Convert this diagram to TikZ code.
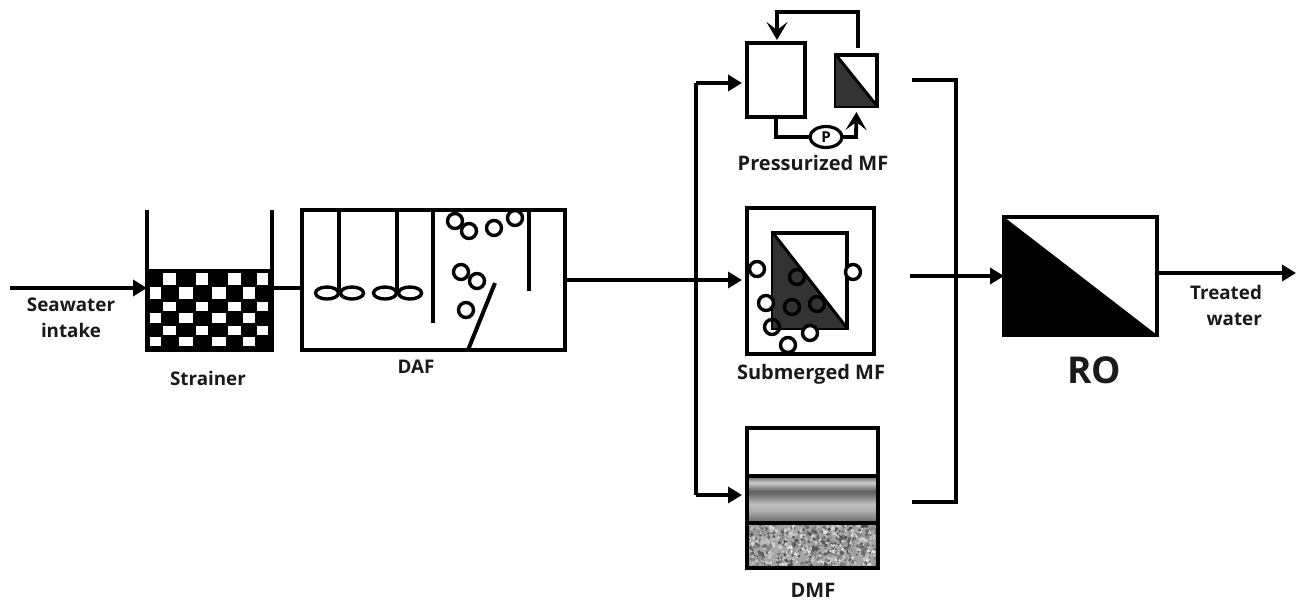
\documentclass[tikz,border=0pt]{standalone}
\usepackage{fontspec}
\setmainfont{Open Sans}
\usetikzlibrary{arrows.meta,shapes.geometric}
\definecolor{ink}{HTML}{1A1A1A}
\definecolor{darkfill}{HTML}{333333}
\pgfdeclareverticalshading{mediaband}{100bp}{%
 color(0bp)=(black!55); color(25bp)=(black!60); color(29bp)=(black!52);
 color(38bp)=(black!32); color(45bp)=(black!25); color(56bp)=(black!58);
 color(59bp)=(black!62); color(68bp)=(black!20); color(72bp)=(black!45);
 color(75bp)=(black!65); color(100bp)=(black!65)}
\tikzset{
 boxline/.style={draw=black,line width=2.2pt,fill=white,inner sep=0pt,outer sep=0pt},
 flow/.style={draw=black,line width=2pt},
 arrowflow/.style={flow,-{Triangle[length=7pt,width=8pt]},shorten >=2.5pt},
 barbflow/.style={draw=black,line width=1.9pt,-{Stealth[length=9pt,width=10.5pt,inset=4pt]}},
 bubble/.style={draw=black,line width=1.7pt},
 caption/.style={font=\bfseries\fontsize{9.4}{13}\selectfont,text=ink,align=center,inner sep=0pt},
 bigcaption/.style={caption,font=\bfseries\fontsize{10}{13}\selectfont},
}
\begin{document}
\begin{tikzpicture}[x=0.5pt,y=-0.5pt]
\useasboundingbox (0,0) rectangle (1300,602);
\fill[white] (0,0) rectangle (1300,602);

% Named free ends and junctions
\coordinate (intake) at (10,288);
\coordinate (wallL) at (147,210);
\coordinate (wallR) at (272,210);
\coordinate (trunkTop) at (696,83);
\coordinate (trunkMid) at (696,281);
\coordinate (trunkBot) at (696,495);
\coordinate (pfOut) at (912,80);
\coordinate (smOut) at (910,276);
\coordinate (dmOut) at (912,502);
\coordinate (busTop) at (956,80);
\coordinate (busBot) at (956,502);
\coordinate (product) at (1296,273);
\coordinate (recycleA) at (858,12);
\coordinate (recycleB) at (777,12);
\coordinate (pumpIn) at (776,137);
\coordinate (pumpOut) at (856,137);

% Strainer
\node[draw=black,line width=2pt,fill=black,inner sep=0pt,outer sep=0pt,minimum width=62.5pt,minimum height=39.5pt] (strainer) at (209.5,310.5) {};
\foreach \ya/\yb in {273.3/285,301.7/310.7,325.7/335}
  \foreach \xa/\xb in {163.3/176,196/208.3,228.3/240.7,257.3/268.3}
    \fill[white] (\xa,\ya) rectangle (\xb,\yb);
\foreach \ya/\yb in {287.3/299.3,313.3/323.3,337.3/346}
  \foreach \xa/\xb in {150/160.7,179.3/193.3,211.7/226,243.3/255}
    \fill[white] (\xa,\ya) rectangle (\xb,\yb);
\draw[flow] (strainer.north west) -- (wallL);
\draw[flow] (strainer.north east) -- (wallR);
\node[caption] (strainerlabel) at (208,378) {Strainer};

% DAF
\node[boxline,minimum width=131.5pt,minimum height=70pt] (daf) at (433.5,280) {};
\foreach \x in {339,397} \draw[flow] (\x,210) -- (\x,293);
\foreach \x in {327,352,385,410} \draw[bubble] (\x,293) ellipse (11.5 and 6);
\draw[flow] (433,210) -- (433,323);
\draw[flow] (529,210) -- (529,291);
\draw[flow] (468,350) -- (495,283);
\foreach \x/\y in {455/221,469/231,494/228,515/218,461/272,477/281,466/310}
  \draw[bubble] (\x,\y) circle (7.5);
\node[caption] (daflabel) at (416,367) {DAF};

% Pressurized MF
\node[boxline,minimum width=29pt,minimum height=37pt] (tank) at (776,80) {};
\node[boxline,minimum width=20.5pt,minimum height=25.5pt] (pmem) at (856.5,80.5) {};
\fill[darkfill] (pmem.north west) -- (pmem.south east) -- (pmem.south west) -- cycle;
\draw[line width=1.5pt] (pmem.north west) -- (pmem.south east);
\node[boxline,ellipse,minimum width=16pt,minimum height=10.5pt,line width=1.6pt,font=\bfseries\fontsize{7.5}{8}\selectfont] (pump) at (826,137) {P};
\draw[flow,line width=1.7pt] (tank.south) -- (pumpIn) -- (pump.west);
\draw[barbflow,shorten >=3pt] (pump.east) -- (pumpOut) -- (pmem.south);
\draw[barbflow,shorten >=1.5pt] (recycleA |- pmem.north) ++(0,-7) -- (recycleA) -- (recycleB) -- (tank.north -| recycleB);
\node[bigcaption] (pflabel) at (813,163) {Pressurized MF};

% Submerged MF
\node[boxline,minimum width=63.5pt,minimum height=73pt] (smtank) at (810.5,281) {};
\node[boxline,minimum width=37pt,minimum height=47.5pt] (smmem) at (810,280.5) {};
\fill[darkfill] (smmem.north west) -- (smmem.south east) -- (smmem.south west) -- cycle;
\draw[line width=1.5pt] (smmem.north west) -- (smmem.south east);
\foreach \x/\y in {757/269,853/272,766/303,788/345,810/333}
  \draw[bubble,fill=white] (\x,\y) circle (7.5);
\foreach \x/\y in {797/277,792/307,817/304,772/327}
  \draw[bubble] (\x,\y) circle (7.5);
\node[bigcaption] (smlabel) at (811,374) {Submerged MF};

% DMF
\begin{scope}
\clip (747,523) rectangle (878,568);
\fill[black!35] (747,523) rectangle (878,568);
\pgfmathsetseed{4217}
\foreach \i in {1,...,1100}{
  \pgfmathsetmacro{\px}{747+131*rnd}
  \pgfmathsetmacro{\py}{523+45*rnd}
  \pgfmathsetmacro{\sh}{int(10+62*rnd)}
  \pgfmathsetmacro{\rr}{0.9+1.3*rnd}
  \fill[black!\sh] (\px,\py) circle (\rr);
}
\end{scope}
\shade[shading=mediaband] (747,476) rectangle (878,523);
\node[draw=black,line width=2.2pt,inner sep=0pt,outer sep=0pt,minimum width=65.5pt,minimum height=70pt] (dmf) at (812.5,498) {};
\draw[flow] (747,476) -- (878,476);
\draw[flow] (747,523) -- (878,523);
\node[caption,font=\bfseries\fontsize{10}{13}\selectfont] (dmflabel) at (813,590) {DMF};

% RO
\node[boxline,minimum width=76.5pt,minimum height=59pt] (ro) at (1080.5,276) {};
\fill[black] (ro.north west) -- (ro.south east) -- (ro.south west) -- cycle;
\node[caption,font=\bfseries\fontsize{18.5}{22}\selectfont] (rolabel) at (1094,370) {RO};

% Connectors
\draw[arrowflow,shorten >=0pt] (intake) -- (intake -| strainer.west);
\draw[flow] (strainer.east |- intake) -- (daf.west |- intake);
\draw[arrowflow] (daf.east) -- (smtank.west |- daf.east);
\draw[flow] (trunkBot) -- (trunkTop);
\draw[arrowflow] (trunkTop) -- (trunkTop -| tank.west);
\draw[arrowflow] (trunkBot) -- (trunkBot -| dmf.west);
\draw[flow] (pfOut) -- (busTop) -- (busBot) -- (dmOut);
\draw[arrowflow,shorten >=0pt] (smOut) -- (ro.west);
\draw[arrowflow,shorten >=0pt] (ro.east |- product) -- (product);

\node[caption] (intakelabel) at (71,318) {Seawater\\intake};
\node[caption,align=right] (treatedlabel) at (1226,305) {Treated\\water};
\end{tikzpicture}
\end{document}
